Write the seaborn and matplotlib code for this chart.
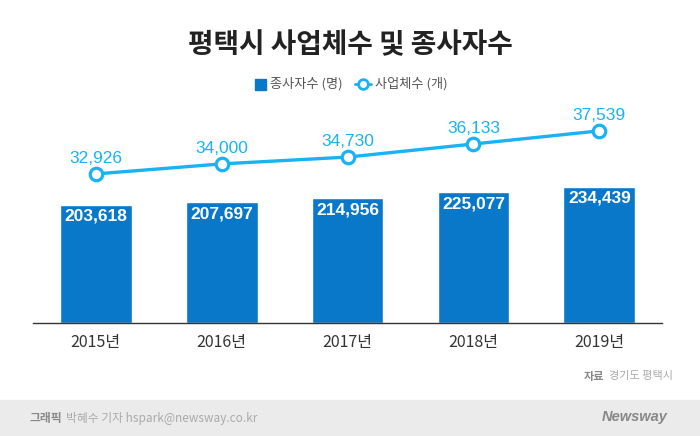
import matplotlib
matplotlib.use("Agg")
import matplotlib.pyplot as plt
import seaborn as sns
import pandas as pd
from matplotlib.patches import Rectangle
from matplotlib.lines import Line2D

years = ["2015년", "2016년", "2017년", "2018년", "2019년"]
workers = [203618, 207697, 214956, 225077, 234439]
businesses = [32926, 34000, 34730, 36133, 37539]

sns.set_theme(style="white")
plt.rcParams['font.family'] = ['Noto Sans CJK KR', 'DejaVu Sans']

BAR = "#0a78c8"
LINE = "#1ab2f2"
NUMFONT = ["Liberation Sans", "DejaVu Sans"]

df = pd.DataFrame({"year": years, "workers": workers, "businesses": businesses})

fig = plt.figure(figsize=(7, 4.36), dpi=100)
ax = fig.add_axes([0.047, 0.259, 0.899, 0.512])
sns.barplot(data=df, x="year", y="workers", color=BAR, width=0.57,
            saturation=1, ax=ax)
ax.set_ylim(0, 384450)
ax.set_xlim(-0.5, 4.5)
for i, v in enumerate(workers):
    ax.text(i, v - 6500, f"{v:,}", ha="center", va="top", color="white",
            fontsize=12.5, fontweight="bold", family=NUMFONT)

ax2 = ax.twinx()
sns.lineplot(x=list(range(len(years))), y=businesses, ax=ax2, color=LINE,
             linewidth=2.4, marker="o", markersize=9, markerfacecolor="white",
             markeredgecolor=LINE, markeredgewidth=2.3)
ax2.set_ylim(16937, 40865)
ax2.set_xlim(-0.5, 4.5)
for i, v in enumerate(businesses):
    ax2.text(i, v + 850, f"{v:,}", ha="center", va="bottom", color=LINE,
             fontsize=12.5, family=NUMFONT)

for a in (ax, ax2):
    for s in ["top", "right", "left"]:
        a.spines[s].set_visible(False)
    a.set_yticks([])
    a.set_ylabel("")
    a.set_xlabel("")
ax.spines["bottom"].set_visible(True)
ax.spines["bottom"].set_color("#333333")
ax.spines["bottom"].set_linewidth(1.0)
ax2.spines["bottom"].set_visible(False)
ax.tick_params(axis="x", length=0, pad=8, labelsize=11.5, labelcolor="#333333")

fig.text(0.5, 0.897, "평택시 사업체수 및 종사자수", ha="center", va="center",
         fontsize=20, fontweight="bold", color="#222222")

# legend
fig.patches.append(Rectangle((255/700, 1-90/436), 11/700, 11/436,
                             transform=fig.transFigure, color=BAR))
fig.text(270/700, 1-84/436, "종사자수 (명)", ha="left", va="center",
         fontsize=9.5, color="#555555")
fig.lines.append(Line2D([355/700, 371/700], [1-84/436, 1-84/436],
                        transform=fig.transFigure, color=LINE, linewidth=2))
fig.lines.append(Line2D([363/700], [1-84/436], transform=fig.transFigure,
                        color=LINE, marker="o", markersize=7,
                        markerfacecolor="white", markeredgewidth=2,
                        linestyle="none"))
fig.text(375/700, 1-84/436, "사업체수 (개)", ha="left", va="center",
         fontsize=9.5, color="#555555")

# source
fig.text(609/700, 1-376/436, "경기도 평택시", ha="left", va="center",
         fontsize=8, color="#aaaaaa")
fig.text(604/700, 1-376/436, "자료", ha="right", va="center",
         fontsize=8, color="#888888", fontweight="bold")

# footer
fig.patches.append(Rectangle((0, 0), 1, 36/436, transform=fig.transFigure,
                             color="#ebebeb", zorder=0))
fig.text(30/700, 18/436, "그래픽", ha="left", va="center", fontsize=8.5,
         color="#888888", fontweight="bold")
fig.text(66/700, 18/436, "박혜수 기자 hspark@newsway.co.kr", ha="left",
         va="center", fontsize=8.5, color="#aaaaaa")
fig.text(668/700, 19/436, "Newsway", ha="right", va="center", fontsize=10.5,
         color="#888888", fontweight="bold", style="italic",
         family=NUMFONT)

fig.savefig("out.png", dpi=100)
